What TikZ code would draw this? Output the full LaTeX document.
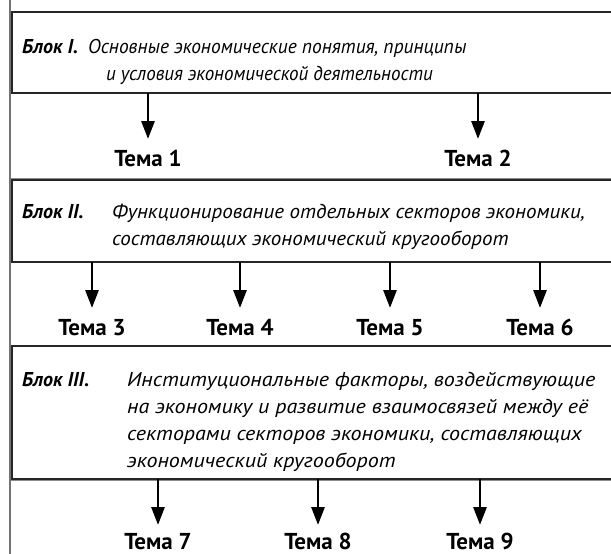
\documentclass[tikz,border=0pt]{standalone}
\usepackage{fontspec}
\setmainfont{PT Sans}
\usetikzlibrary{arrows.meta}
\tikzset{
  blockbox/.style={draw=black!85, line width=1.2pt},
  rowline/.style={draw=black!45, line width=1.5pt},
  lbl/.style={anchor=base west, inner sep=0pt, font=\fontsize{20}{24}\selectfont\bfseries\itshape},
  txt/.style={anchor=base west, inner sep=0pt, font=\fontsize{20}{24}\selectfont\itshape},
  tema/.style={anchor=base, inner sep=0pt, font=\fontsize{23}{27}\selectfont\bfseries},
  arr/.style={-{Triangle[length=18pt,width=13pt]}, line width=2.8pt}
}
\begin{document}
\begin{tikzpicture}[x=1pt,y=-1pt]
\useasboundingbox (0,0) rectangle (611,554);
\fill[white] (0,0) rectangle (611,554);
% row separators
\draw[rowline] (10,179) -- (615,179);
\draw[rowline] (10,345.5) -- (615,345.5);
\draw[rowline] (10,480) -- (615,480);
% left frame line
\draw[draw=black!55, line width=2pt] (10,0) -- (10,554);
% blocks
\draw[blockbox] (12,12) rectangle (616,93);
\draw[blockbox] (12,180) rectangle (616,262);
\draw[blockbox] (12,346) rectangle (616,479);
% block I
\node[lbl] (l1) at (22,53) {Блок I.};
\node[txt] (b1a) at (88,53) {\scalebox{0.97}[1]{Основные экономические понятия, принципы}};
\node[txt] (b1b) at (106,80) {\scalebox{0.95}[1]{и условия экономической деятельности}};
% block II
\node[lbl] (l2) at (22,218) {Блок II.};
\node[txt] (b2a) at (112,218) {\scalebox{1.05}[1]{Функционирование отдельных секторов экономики,}};
\node[txt] (b2b) at (112,245) {\scalebox{1.05}[1]{составляющих экономический кругооборот}};
% block III
\node[lbl] (l3) at (22,386) {Блок III.};
\node[txt] (b3a) at (127,386) {\scalebox{1.1}[1]{Институциональные факторы, воздействующие}};
\node[txt] (b3b) at (127,413) {\scalebox{1.1}[1]{на экономику и развитие взаимосвязей между её}};
\node[txt] (b3c) at (127,440) {\scalebox{1.1}[1]{секторами секторов экономики, составляющих}};
\node[txt] (b3d) at (127,467) {\scalebox{1.1}[1]{экономический кругооборот}};
% topics
\node[tema] (t1) at (148,166) {Тема 1};
\node[tema] (t2) at (478,166) {Тема 2};
\node[tema] (t3) at (92,335) {Тема 3};
\node[tema] (t4) at (240,335) {Тема 4};
\node[tema] (t5) at (390,335) {Тема 5};
\node[tema] (t6) at (540,335) {Тема 6};
\node[tema] (t7) at (158,549) {Тема 7};
\node[tema] (t8) at (318,549) {Тема 8};
\node[tema] (t9) at (480,549) {Тема 9};
% arrow endpoints
\coordinate (s1) at (148,93);  \coordinate (e1) at (148,139);
\coordinate (s2) at (478,93);  \coordinate (e2) at (478,139);
\coordinate (s3) at (92,262);  \coordinate (e3) at (92,308);
\coordinate (s4) at (240,262); \coordinate (e4) at (240,308);
\coordinate (s5) at (390,262); \coordinate (e5) at (390,308);
\coordinate (s6) at (540,262); \coordinate (e6) at (540,308);
\coordinate (s7) at (158,479); \coordinate (e7) at (158,525);
\coordinate (s8) at (318,479); \coordinate (e8) at (318,525);
\coordinate (s9) at (480,479); \coordinate (e9) at (480,525);
\foreach \i in {1,...,9} { \draw[arr] (s\i) -- (e\i); }
\end{tikzpicture}
\end{document}
